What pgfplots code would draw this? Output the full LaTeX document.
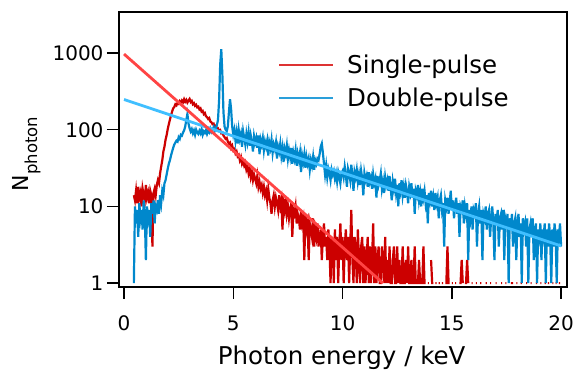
\documentclass[border=0pt]{standalone}
\usepackage{fontspec}
\setmainfont{DejaVu Sans}
\usepackage{pgfplots}
\usepackage{pgfplotstable}
\pgfplotsset{compat=1.18}
\definecolor{datred}{HTML}{CC0000}
\definecolor{datblue}{HTML}{0088CC}
\definecolor{fitred}{HTML}{FF4444}
\definecolor{fitblue}{HTML}{40BFFF}
\definecolor{legred}{HTML}{DD3333}
\definecolor{legblue}{HTML}{2A9FDA}
\pgfplotstableread{
E R B
0.45 14 1
0.50 12 10
0.55 16 6
0.60 11 9
0.65 18 4
0.70 13 11
0.75 15 7
0.80 10 9
0.85 17 5
0.90 14 12
0.95 12 8
1.00 19 2
1.05 13 10
1.10 15 7
1.15 11 9
1.20 16 4
1.25 14 11
1.30 3 8
1.35 15 12
1.40 17 6
1.45 14 10
1.50 19 9
1.55 22 12
1.60 20 8
1.65 27 14
1.70 33 11
1.75 40 16
1.80 52 14
1.85 60 20
1.90 74 22
1.95 85 26
2.00 102 31
2.05 118 36
2.10 135 40
2.15 155 46
2.20 172 52
2.25 190 58
2.30 198 64
2.35 215 68
2.40 208 72
2.45 225 70
2.50 218 80
2.55 235 76
2.60 222 86
2.65 240 84
2.70 228 92
2.75 250 98
2.80 232 110
2.85 245 135
2.90 226 160
2.95 240 120
3.00 252 105
3.05 230 95
3.10 238 102
3.15 215 90
3.20 222 98
3.25 205 86
3.30 212 100
3.35 196 92
3.40 200 88
3.45 184 97
3.50 190 90
3.55 172 102
3.60 176 86
3.65 160 95
3.70 165 91
3.75 150 99
3.80 146 88
3.85 138 96
3.90 142 92
3.95 128 103
4.00 125 94
4.05 118 100
4.10 120 108
4.15 108 96
4.20 112 104
4.25 102 115
4.30 104 135
4.35 97 240
4.40 99 700
4.45 90 1120
4.50 92 520
4.55 84 170
4.60 80 110
4.65 76 100
4.70 78 96
4.75 70 110
4.80 66 170
4.85 68 250
4.90 58 185
4.95 62 110
5.00 54 86
5.05 56 100
5.10 49 72
5.15 52 92
5.20 45 66
5.25 47 98
5.30 40 76
5.35 44 88
5.40 36 60
5.45 39 95
5.50 34 78
5.55 37 64
5.60 30 88
5.65 33 70
5.70 27 92
5.75 31 62
5.80 24 84
5.85 28 70
5.90 22 52
5.95 26 82
6.00 23 68
6.05 20 78
6.10 25 58
6.15 18 84
6.20 21 48
6.25 17 74
6.30 19 64
6.35 15 78
6.40 18 54
6.45 14 70
6.50 16 60
6.55 12 72
6.60 17 46
6.65 13 68
6.70 11 58
6.75 8 74
6.80 12 50
6.85 14 64
6.90 10 56
6.95 13 68
7.00 11 42
7.05 9 60
7.10 14 52
7.15 10 66
7.20 12 46
7.25 5 58
7.30 11 38
7.35 9 56
7.40 13 48
7.45 8 62
7.50 10 42
7.55 7 54
7.60 9 44
7.65 11 58
7.70 4 36
7.75 9 50
7.80 8 42
7.85 10 54
7.90 6 34
7.95 8 48
8.00 7 40
8.05 5 50
8.10 9 28
8.15 6 46
8.20 7 38
8.25 2 48
8.30 8 32
8.35 5 44
8.40 6 36
8.45 2 42
8.50 6 30
8.55 5 40
8.60 4 34
8.65 7 44
8.70 3 30
8.75 5 40
8.80 4 36
8.85 6 42
8.90 3 40
8.95 4 48
9.00 5 60
9.05 2 66
9.10 4 50
9.15 6 36
9.20 3 26
9.25 4 34
9.30 2 24
9.35 5 31
9.40 3 27
9.45 1 22
9.50 4 30
9.55 3 26
9.60 1 29
9.65 5 23
9.70 2 27
9.75 4 21
9.80 1 28
9.85 3 24
9.90 6 20
9.95 2 27
10.00 4 29
10.05 1 24
10.10 3 33
10.15 5 26
10.20 2 18
10.25 4 31
10.30 1 27
10.35 3 22
10.40 9 35
10.45 2 25
10.50 1 16
10.55 4 28
10.60 3 24
10.65 1 30
10.70 5 21
10.75 2 26
10.80 1 19
10.85 3 29
10.90 4 23
10.95 1 14
11.00 3 27
11.05 1 22
11.10 2 25
11.15 4 18
11.20 1 28
11.25 3 21
11.30 1 24
11.35 2 17
11.40 6 26
11.45 1 20
11.50 3 23
11.55 1 13
11.60 2 25
11.65 3 19
11.70 1 22
11.75 1 27
11.80 3 17
11.85 2 21
11.90 1 15
11.95 4 24
12.00 1 19
12.05 2 22
12.10 1 16
12.15 3 25
12.20 1 18
12.25 1 12
12.30 2 21
12.35 3 17
12.40 1 23
12.45 1 15
12.50 3 19
12.55 1 10
12.60 2 20
12.65 1 16
12.70 1 22
12.75 3 14
12.80 1 18
12.85 1 13
12.90 2 19
12.95 1 16
13.00 3 11
13.05 1 18
13.10 1 15
13.15 2 20
13.20 1 13
13.25 1 17
13.30 3 8
13.35 1 16
13.40 1 14
13.45 1 19
13.50 2 12
13.55 1 15
13.60 1 10
13.65 1 17
13.70 3 13
13.75 1 16
13.80 1 11
13.85 0 14
13.90 1 6
13.95 1 15
14.00 0 12
14.05 2 16
14.10 1 10
14.15 1 13
14.20 0 9
14.25 1 15
14.30 1 11
14.35 0 13
14.40 1 7
14.45 1 12
14.50 0 14
14.55 1 9
14.60 1 11
14.65 0 3
14.70 1 12
14.75 1 10
14.80 3 13
14.85 1 8
14.90 1 11
14.95 0 16
15.00 1 9
15.05 1 12
15.10 0 7
15.15 1 10
15.20 1 13
15.25 0 8
15.30 0 11
15.35 1 4
15.40 1 10
15.45 2 9
15.50 1 12
15.55 0 6
15.60 1 10
15.65 1 8
15.70 2 11
15.75 1 2
15.80 0 9
15.85 0 7
15.90 1 10
15.95 1 5
16.00 0 9
16.05 0 8
16.10 1 11
16.15 1 3
16.20 0 8
16.25 0 10
16.30 1 6
16.35 1 9
16.40 0 2
16.45 0 8
16.50 0 7
16.55 1 10
16.60 1 5
16.65 0 8
16.70 0 9
16.75 1 4
16.80 1 7
16.85 0 10
16.90 0 6
16.95 0 2
17.00 1 8
17.05 1 6
17.10 0 9
17.15 0 3
17.20 0 7
17.25 1 8
17.30 1 5
17.35 0 9
17.40 0 2
17.45 1 7
17.50 1 6
17.55 0 8
17.60 0 1
17.65 0 7
17.70 1 5
17.75 1 8
17.80 1 3
17.85 0 6
17.90 0 7
17.95 1 2
18.00 1 6
18.05 0 8
18.10 0 4
18.15 1 6
18.20 1 1
18.25 0 7
18.30 0 5
18.35 0 6
18.40 1 3
18.45 1 7
18.50 0 1
18.55 0 5
18.60 1 6
18.65 1 4
18.70 0 7
18.75 0 2
18.80 0 5
18.85 1 6
18.90 1 1
18.95 0 5
19.00 0 4
19.05 1 6
19.10 1 2
19.15 0 5
19.20 0 4
19.25 1 6
19.30 1 1
19.35 0 5
19.40 1 3
19.45 1 6
19.50 0 4
19.55 0 1
19.60 1 5
19.65 1 3
19.70 0 6
19.75 1 4
19.80 1 1
19.85 0 5
19.90 1 4
19.95 1 6
20.00 0 3
}\spec

\begin{document}
\begin{tikzpicture}
\begin{axis}[
  scale only axis, width=448pt, height=275pt,
  xmin=-0.23, xmax=20.27,
  ymode=log, ymin=0.89, ymax=3430,
  xtick={0,5,10,15,20}, xticklabels={0,5,10,15,20},
  ytick={1,10,100,1000}, yticklabels={1,10,100,1000},
  yminorticks=false, xminorticks=false,
  xtick pos=bottom, ytick pos=left,
  tick align=outside,
  major tick length=12pt,
  every tick/.style={black, line width=1.5pt},
  axis line style={line width=1.5pt},
  tick label style={font=\fontsize{20}{24}\selectfont},
  xticklabel style={yshift=-13pt},
  unbounded coords=jump,
  xlabel={Photon energy / keV},
  xlabel style={at={(axis description cs:0.497,-0.2836)}, anchor=base, inner sep=0pt, font=\fontsize{24.5}{29}\selectfont},
  ylabel={{\fontsize{22}{26}\selectfont N}\raisebox{-9pt}{\fontsize{16.5}{19}\selectfont photon}},
  ylabel style={at={(axis description cs:-0.239,0.484)}, anchor=north, inner sep=0pt},
  legend style={draw=none, fill=none, at={(axis description cs:0.355,0.848)}, anchor=north west,
    font=\fontsize{24.5}{29}\selectfont, row sep=11pt, inner sep=0pt, nodes={inner sep=1pt},
    /tikz/every odd column/.append style={column sep=12pt}},
  legend cell align=left,
  legend image code/.code={\draw[#1] (0pt,0pt) -- (54pt,0pt);},
]
\addplot[datred, line width=2.2pt, forget plot] table[x=E, y=R] {\spec};
\addplot[datblue, line width=2.2pt, forget plot] table[x=E, y=B] {\spec};
\addplot[fitblue, line width=2.8pt, forget plot] coordinates {(0,248) (20,3.05)};
\addplot[fitred, line width=2.8pt, forget plot] coordinates {(0,970) (11.85,1)};
\addlegendimage{legred, line width=2pt}
\addlegendentry{Single-pulse}
\addlegendimage{legblue, line width=2pt}
\addlegendentry{Double-pulse}
\end{axis}
\pgfresetboundingbox
\path ([xshift=-119pt,yshift=-85pt]current axis.south west) rectangle ([xshift=11pt,yshift=12pt]current axis.north east);
\end{tikzpicture}
\end{document}
